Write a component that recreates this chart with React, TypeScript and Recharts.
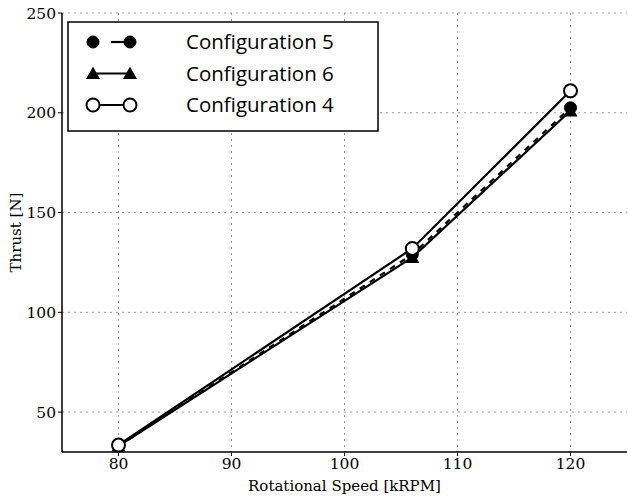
import { LineChart, Line, XAxis, YAxis, CartesianGrid } from "recharts"

const speeds = [80, 106, 120]
const config5 = [33, 129, 202.5]
const config6 = [33, 127.5, 201]
const config4 = [33.5, 132, 211]
const xTicks = [80, 90, 100, 110, 120]
const yTicks = [50, 100, 150, 200, 250]

const data = speeds.map((s, i) => ({
  speed: s,
  c5: config5[i],
  c6: config6[i],
  c4: config4[i],
}))

const serif = "'DejaVu Serif', serif"

function FilledDot(props: any) {
  const { cx, cy } = props
  return <circle cx={cx} cy={cy} r={6} fill="#000" stroke="#000" />
}

function OpenDot(props: any) {
  const { cx, cy } = props
  return <circle cx={cx} cy={cy} r={6.5} fill="#fff" stroke="#000" strokeWidth={2} />
}

function TriDot(props: any) {
  const { cx, cy } = props
  const s = 7
  return (
    <polygon
      points={`${cx},${cy - s} ${cx - s},${cy + s * 0.8} ${cx + s},${cy + s * 0.8}`}
      fill="#000"
    />
  )
}

const legendItems = [
  { label: "Configuration 5", kind: "filled" },
  { label: "Configuration 6", kind: "tri" },
  { label: "Configuration 4", kind: "open" },
]

function LegendBox() {
  return (
    <svg width={312} height={111} style={{ display: "block" }}>
      <rect x={1} y={1} width={310} height={109} fill="#fff" stroke="#000" strokeWidth={1.5} />
      {legendItems.map((item, i) => {
        const y = 21 + i * 31.5
        const x1 = 26
        const x2 = 63
        return (
          <g key={item.label}>
            <line
              x1={item.kind === "filled" ? x1 + 18 : x1}
              y1={y}
              x2={x2}
              y2={y}
              stroke="#000"
              strokeWidth={2.2}
            />
            {item.kind === "filled" && (
              <>
                <FilledDot cx={x1} cy={y} />
                <FilledDot cx={x2} cy={y} />
              </>
            )}
            {item.kind === "tri" && (
              <>
                <TriDot cx={x1} cy={y} />
                <TriDot cx={x2} cy={y} />
              </>
            )}
            {item.kind === "open" && (
              <>
                <OpenDot cx={x1} cy={y} />
                <OpenDot cx={x2} cy={y} />
              </>
            )}
            <text
              x={119}
              y={y + 7}
              fontFamily="'Open Sans', sans-serif"
              fontSize={20.5}
              fill="#000"
            >
              {item.label}
            </text>
          </g>
        )
      })}
    </svg>
  )
}

export default function App() {
  return (
    <div style={{ position: "absolute", left: 0, top: 0, width: 628, height: 497, background: "#fff" }}>
      <LineChart
        width={628}
        height={497}
        data={data}
        margin={{ top: 13, right: 1, bottom: 0, left: 0 }}
      >
        <CartesianGrid
          stroke="#999"
          strokeDasharray="2 4"
          horizontalValues={yTicks}
          verticalValues={xTicks}
        />
        <XAxis
          dataKey="speed"
          type="number"
          domain={[75, 125]}
          ticks={xTicks}
          height={45}
          stroke="#000"
          axisLine={{ stroke: "#000", strokeWidth: 1.5 }}
          tickSize={4}
          tick={{ fill: "#000", fontFamily: serif, fontSize: 15.5 }}
          label={{
            value: "Rotational Speed [kRPM]",
            position: "insideBottom",
            offset: 6,
            fill: "#000",
            fontFamily: serif,
            fontSize: 15,
          }}
        />
        <XAxis
          xAxisId="top"
          dataKey="speed"
          type="number"
          domain={[75, 125]}
          orientation="top"
          height={0}
          tick={false}
          tickLine={false}
          axisLine={{ stroke: "#000", strokeWidth: 1.5 }}
        />
        <YAxis
          type="number"
          domain={[30, 250]}
          ticks={yTicks}
          width={62}
          stroke="#000"
          axisLine={{ stroke: "#000", strokeWidth: 1.5 }}
          tickSize={4}
          tick={{ fill: "#000", fontFamily: serif, fontSize: 15.5 }}
          label={{
            value: "Thrust [N]",
            angle: -90,
            position: "insideLeft",
            offset: 16,
            fill: "#000",
            fontFamily: serif,
            fontSize: 15,
            style: { textAnchor: "middle" },
          }}
        />
        <YAxis
          yAxisId="right"
          type="number"
          domain={[30, 250]}
          orientation="right"
          width={0}
          tick={false}
          tickLine={false}
          axisLine={{ stroke: "#000", strokeWidth: 1.5 }}
        />
        <Line
          dataKey="c5"
          stroke="#000"
          strokeWidth={2.2}
          strokeDasharray="6 6"
          dot={<FilledDot />}
          isAnimationActive={false}
        />
        <Line
          dataKey="c6"
          stroke="#000"
          strokeWidth={2.2}
          dot={<TriDot />}
          isAnimationActive={false}
        />
        <Line
          dataKey="c4"
          stroke="#000"
          strokeWidth={2.2}
          dot={<OpenDot />}
          isAnimationActive={false}
        />
      </LineChart>
      <div style={{ position: "absolute", left: 67, top: 21 }}>
        <LegendBox />
      </div>
    </div>
  )
}
